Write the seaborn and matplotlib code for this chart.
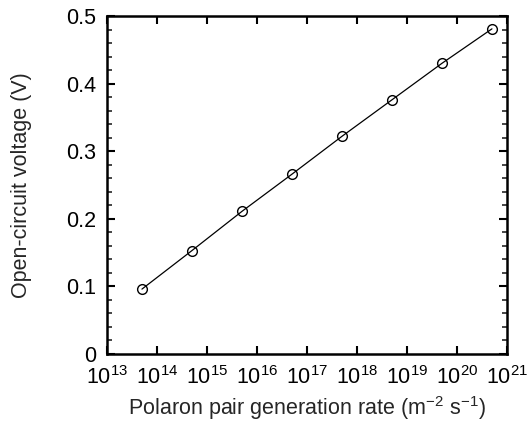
import matplotlib
matplotlib.use("Agg")
import matplotlib.pyplot as plt
import seaborn as sns
import numpy as np
import pandas as pd
from matplotlib.ticker import FixedLocator, MultipleLocator, NullLocator

generation_rate = [5e13, 5e14, 5e15, 5e16, 5e17, 5e18, 5e19, 5e20]
voc = [0.096, 0.153, 0.211, 0.266, 0.322, 0.376, 0.430, 0.481]
x_ticks = [1e13, 1e14, 1e15, 1e16, 1e17, 1e18, 1e19, 1e20, 1e21]
y_ticks = [0, 0.1, 0.2, 0.3, 0.4, 0.5]
y_tick_labels = ["0", "0.1", "0.2", "0.3", "0.4", "0.5"]

sns.set_style("ticks")
plt.rcParams['font.family'] = ['Liberation Sans', 'DejaVu Sans']
plt.rcParams['mathtext.fontset'] = 'custom'
plt.rcParams['mathtext.rm'] = 'Liberation Sans'
plt.rcParams['mathtext.it'] = 'Liberation Sans:italic'
plt.rcParams['mathtext.bf'] = 'Liberation Sans:bold'

df = pd.DataFrame({"rate": generation_rate, "voc": voc})

fig = plt.figure(figsize=(5.27, 4.26), dpi=100)
ax = fig.add_axes([107/527, 1 - 354/426, 400/527, 338/426])

sns.lineplot(data=df, x="rate", y="voc", ax=ax, color="black", linewidth=0.9,
             marker="o", markersize=7, markerfacecolor="none",
             markeredgecolor="black", markeredgewidth=1.0)
ax.set_xscale("log")
ax.set_xlim(1e13, 1e21)
ax.set_ylim(0, 0.5)

ax.xaxis.set_major_locator(FixedLocator(x_ticks))
ax.xaxis.set_minor_locator(NullLocator())
ax.set_xticklabels([f"$10^{{{int(np.log10(v))}}}$" for v in x_ticks])
ax.set_yticks(y_ticks)
ax.set_yticklabels(y_tick_labels)
ax.yaxis.set_minor_locator(MultipleLocator(0.02))

for s in ax.spines.values():
    s.set_linewidth(1.8)
    s.set_color("black")
    s.set_visible(True)

ax.tick_params(which="major", direction="in", length=6, width=1.5,
               top=True, right=True, labelsize=15.5, colors="black")
ax.tick_params(axis="x", which="major", pad=9)
ax.tick_params(axis="y", which="major", pad=8)
ax.tick_params(which="minor", direction="in", length=3.5, width=1.2,
               top=True, right=True)

ax.set_xlabel("Polaron pair generation rate (m$^{-2}$ s$^{-1}$)", fontsize=15.5)
ax.set_ylabel("Open-circuit voltage (V)", fontsize=15.5)
ax.xaxis.set_label_coords(0.5, (354 - 408) / 338, transform=ax.transAxes)
ax.xaxis.label.set_va("center")
ax.yaxis.set_label_coords((22 - 107) / 400, 0.5, transform=ax.transAxes)
ax.yaxis.label.set_va("center")

fig.savefig("out.png", dpi=100)
